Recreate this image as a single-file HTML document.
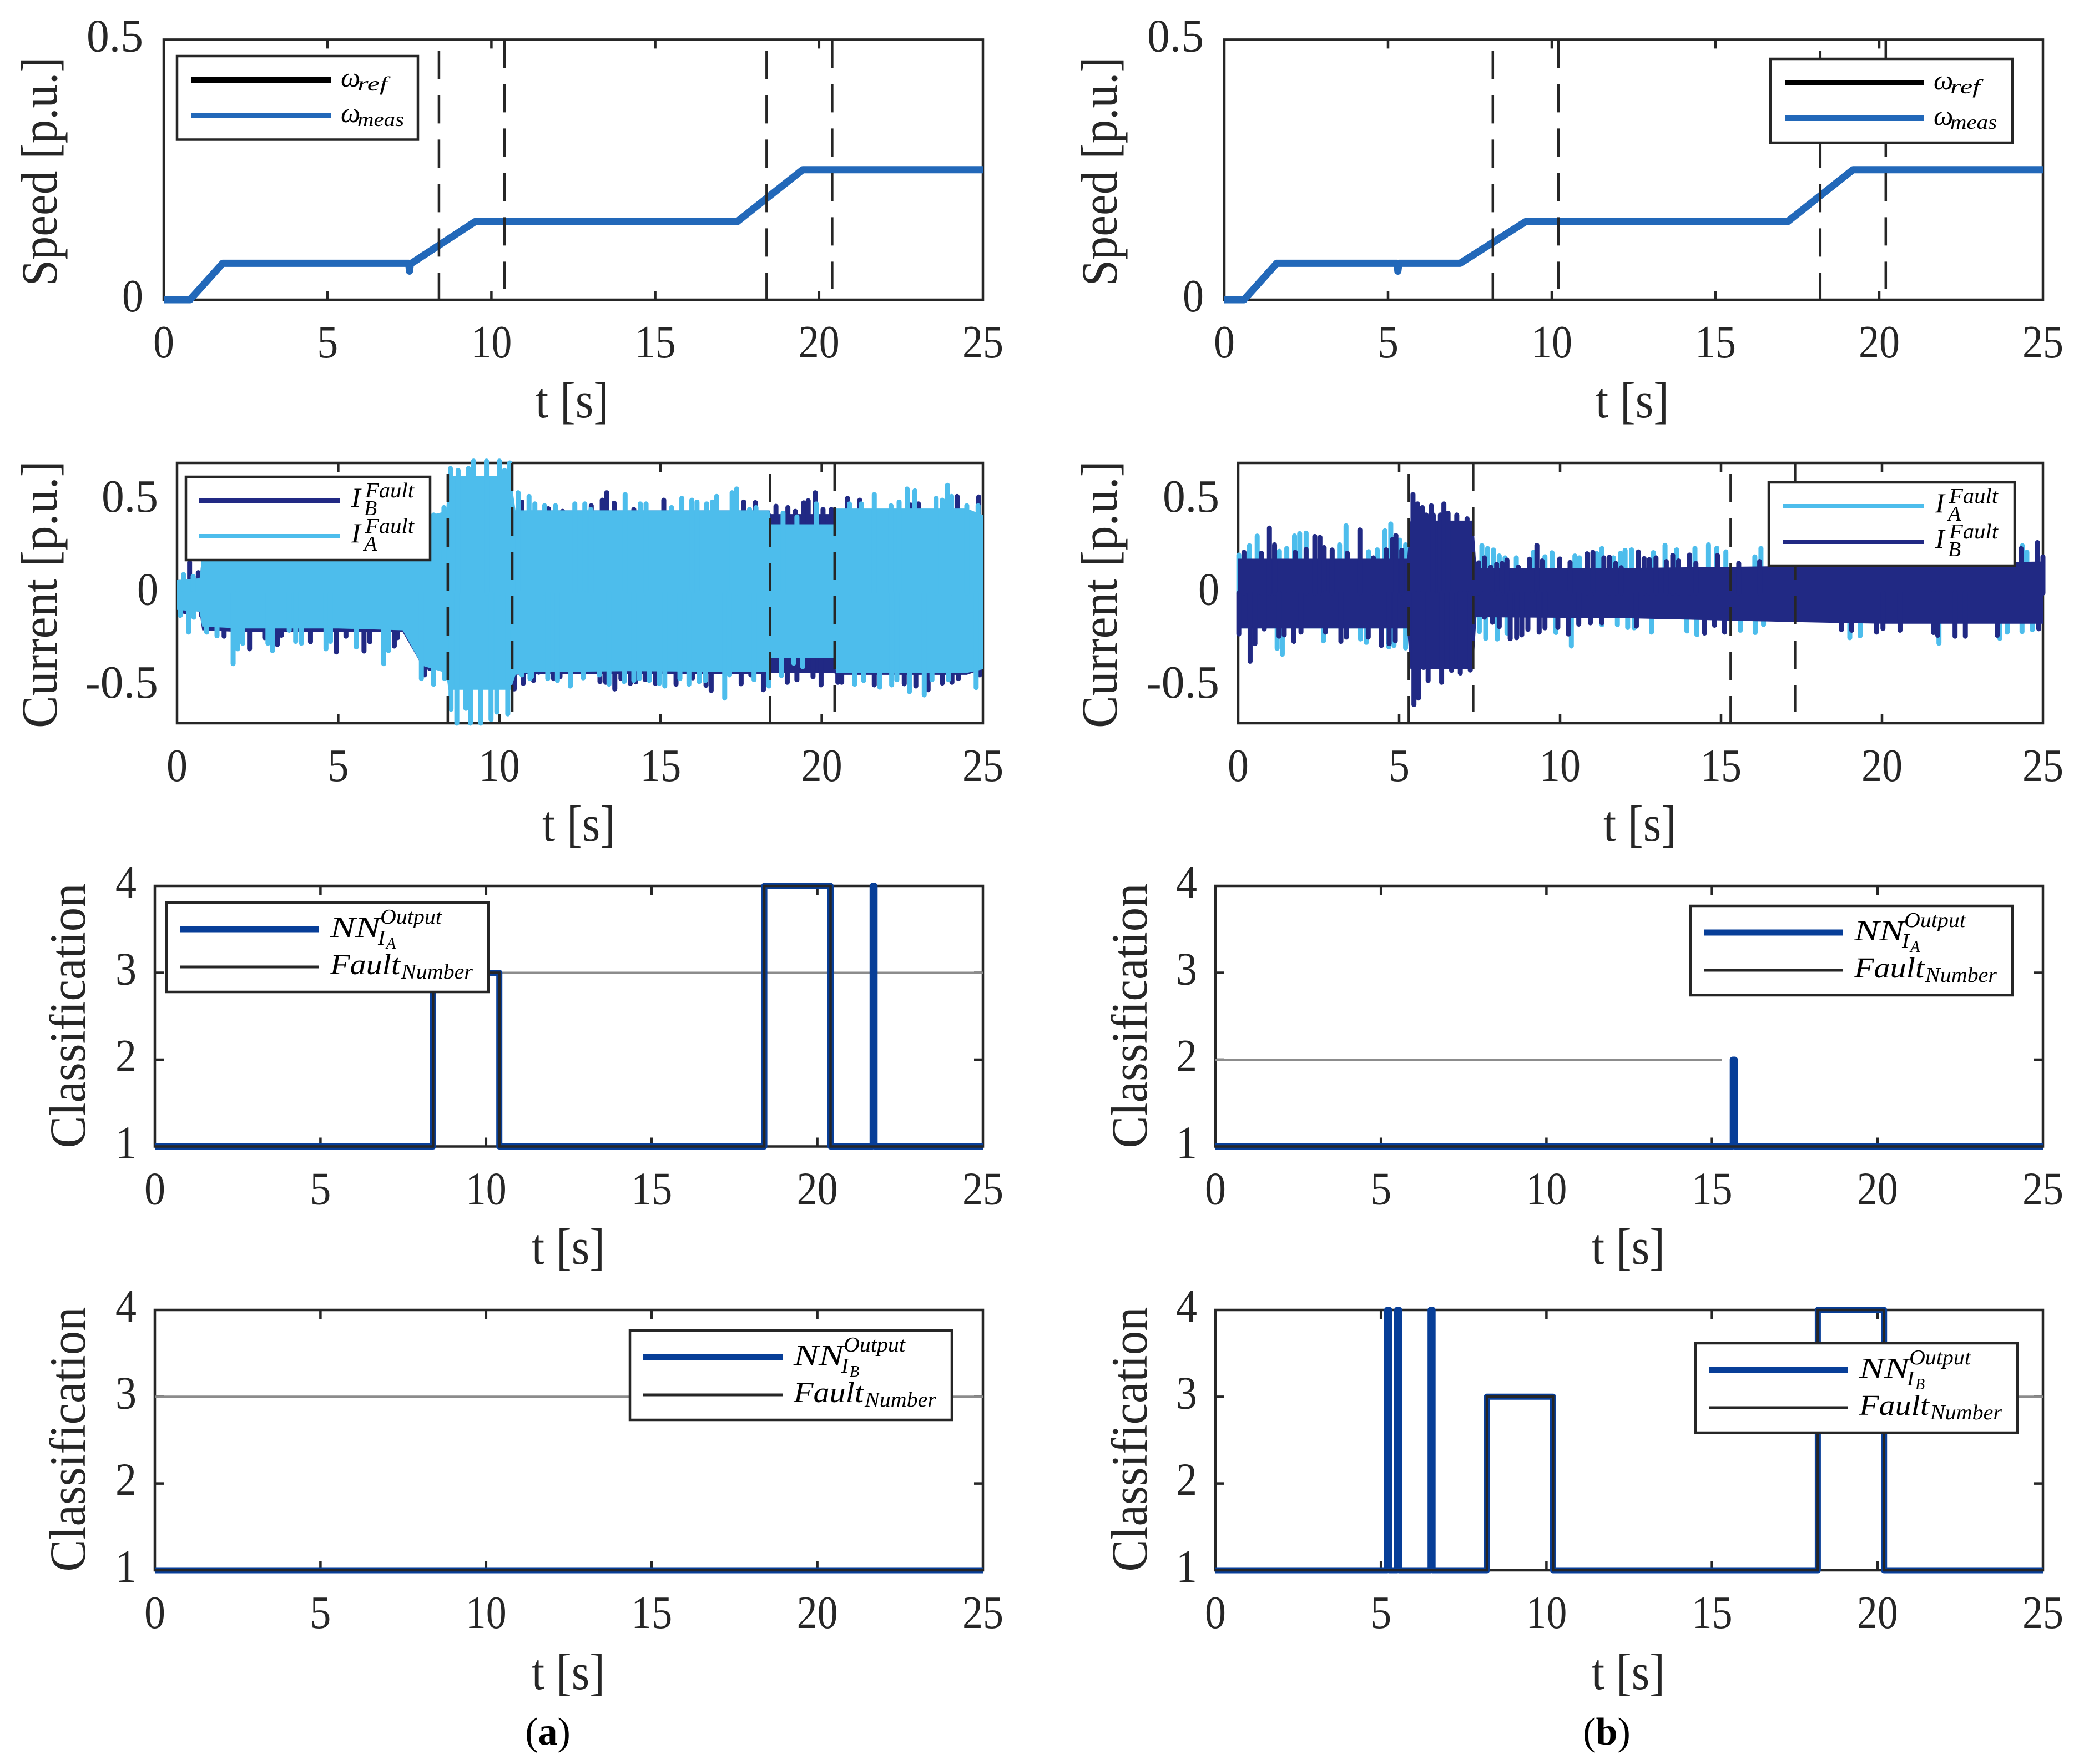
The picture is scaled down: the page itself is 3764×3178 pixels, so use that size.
<!DOCTYPE html>
<html lang="en">
<head>
<meta charset="utf-8">
<title>Speed, current and classification results for fault cases (a) and (b)</title>
<style>
html,body{margin:0;padding:0;background:#fff;}
svg{display:block;}
text{font-family:"Liberation Serif","DejaVu Serif",serif;fill:#262626;}
.lab{font-size:92px;}
.tick{font-size:84px;}
.m{font-style:italic;fill:#000;}
.lf{fill:#fff;stroke:#262626;stroke-width:4.5;}
</style>
</head>
<body>
<svg id="figure" xmlns="http://www.w3.org/2000/svg" width="3764" height="3178" viewBox="0 0 3764 3178">
<rect x="0" y="0" width="3764" height="3178" fill="#ffffff"/>

<g id="p1a"></g>
<g id="p1b"></g>
<g id="p2a"></g>
<g id="p2b"></g>
<g id="p3a"></g>
<g id="p3b"></g>
<g id="p4a"></g>
<g id="p4b"></g>

<!-- axis titles -->
<text class="lab" transform="translate(102,309) rotate(-90)" text-anchor="middle" textLength="413" lengthAdjust="spacingAndGlyphs">Speed [p.u.]</text>
<text class="lab" transform="translate(2012,309) rotate(-90)" text-anchor="middle" textLength="413" lengthAdjust="spacingAndGlyphs">Speed [p.u.]</text>
<text class="lab" transform="translate(102,1071) rotate(-90)" text-anchor="middle" textLength="482" lengthAdjust="spacingAndGlyphs">Current [p.u.]</text>
<text class="lab" transform="translate(2012,1071) rotate(-90)" text-anchor="middle" textLength="482" lengthAdjust="spacingAndGlyphs">Current [p.u.]</text>
<text class="lab" transform="translate(153,1830) rotate(-90)" text-anchor="middle" textLength="477" lengthAdjust="spacingAndGlyphs">Classification</text>
<text class="lab" transform="translate(2066,1830) rotate(-90)" text-anchor="middle" textLength="477" lengthAdjust="spacingAndGlyphs">Classification</text>
<text class="lab" transform="translate(153,2593) rotate(-90)" text-anchor="middle" textLength="477" lengthAdjust="spacingAndGlyphs">Classification</text>
<text class="lab" transform="translate(2066,2593) rotate(-90)" text-anchor="middle" textLength="477" lengthAdjust="spacingAndGlyphs">Classification</text>

<text class="lab" x="1031" y="752" text-anchor="middle" textLength="132" lengthAdjust="spacingAndGlyphs">t [s]</text>
<text class="lab" x="2941" y="752" text-anchor="middle" textLength="132" lengthAdjust="spacingAndGlyphs">t [s]</text>
<text class="lab" x="1043" y="1515" text-anchor="middle" textLength="132" lengthAdjust="spacingAndGlyphs">t [s]</text>
<text class="lab" x="2955" y="1515" text-anchor="middle" textLength="132" lengthAdjust="spacingAndGlyphs">t [s]</text>
<text class="lab" x="1024" y="2277" text-anchor="middle" textLength="132" lengthAdjust="spacingAndGlyphs">t [s]</text>
<text class="lab" x="2934" y="2277" text-anchor="middle" textLength="132" lengthAdjust="spacingAndGlyphs">t [s]</text>
<text class="lab" x="1024" y="3043" text-anchor="middle" textLength="132" lengthAdjust="spacingAndGlyphs">t [s]</text>
<text class="lab" x="2934" y="3043" text-anchor="middle" textLength="132" lengthAdjust="spacingAndGlyphs">t [s]</text>

<!-- legends -->
<g>
  <rect class="lf" x="319" y="101" width="434" height="150.500"/>
  <line x1="344" x2="596" y1="144" y2="144" stroke="#000" stroke-width="10"/>
  <line x1="344" x2="596" y1="208" y2="208" stroke="#2268b9" stroke-width="10"/>
  <text class="m" x="614" y="156" font-size="50">ω</text>
  <text class="m" x="644" y="163" font-size="36" textLength="54" lengthAdjust="spacingAndGlyphs">ref</text>
  <text class="m" x="614" y="220" font-size="50">ω</text>
  <text class="m" x="644" y="227" font-size="36" textLength="84" lengthAdjust="spacingAndGlyphs">meas</text>
</g>
<g>
  <rect class="lf" x="3190" y="106" width="436" height="151"/>
  <line x1="3216" x2="3466" y1="149" y2="149" stroke="#000" stroke-width="10"/>
  <line x1="3216" x2="3466" y1="213" y2="213" stroke="#2268b9" stroke-width="10"/>
  <text class="m" x="3484" y="161" font-size="50">ω</text>
  <text class="m" x="3514" y="168" font-size="36" textLength="54" lengthAdjust="spacingAndGlyphs">ref</text>
  <text class="m" x="3484" y="225" font-size="50">ω</text>
  <text class="m" x="3514" y="232" font-size="36" textLength="84" lengthAdjust="spacingAndGlyphs">meas</text>
</g>
<g>
  <rect class="lf" x="335" y="859" width="440" height="150"/>
  <line x1="359" x2="612" y1="902" y2="902" stroke="#212984" stroke-width="8"/>
  <line x1="359" x2="612" y1="966" y2="966" stroke="#4dbdec" stroke-width="8"/>
  <text class="m" x="633" y="913" font-size="50">I</text>
  <text class="m" x="658" y="896" font-size="38" textLength="88" lengthAdjust="spacingAndGlyphs">Fault</text>
  <text class="m" x="656" y="928" font-size="38">B</text>
  <text class="m" x="633" y="977" font-size="50">I</text>
  <text class="m" x="658" y="960" font-size="38" textLength="88" lengthAdjust="spacingAndGlyphs">Fault</text>
  <text class="m" x="656" y="992" font-size="38">A</text>
</g>
<g>
  <rect class="lf" x="3187" y="869" width="443" height="150"/>
  <line x1="3213" x2="3466" y1="912" y2="912" stroke="#4dbdec" stroke-width="8"/>
  <line x1="3213" x2="3466" y1="976" y2="976" stroke="#212984" stroke-width="8"/>
  <text class="m" x="3487" y="923" font-size="50">I</text>
  <text class="m" x="3512" y="906" font-size="38" textLength="88" lengthAdjust="spacingAndGlyphs">Fault</text>
  <text class="m" x="3510" y="938" font-size="38">A</text>
  <text class="m" x="3487" y="987" font-size="50">I</text>
  <text class="m" x="3512" y="970" font-size="38" textLength="88" lengthAdjust="spacingAndGlyphs">Fault</text>
  <text class="m" x="3510" y="1002" font-size="38">B</text>
</g>
<g transform="translate(300,1626)">
  <rect class="lf" x="0" y="0" width="580" height="161"/>
  <line x1="24" x2="275" y1="48" y2="48" stroke="#073e98" stroke-width="11"/>
  <line x1="24" x2="275" y1="116" y2="116" stroke="#262626" stroke-width="5"/>
  <text class="m" x="295" y="62" font-size="52" textLength="90" lengthAdjust="spacingAndGlyphs">NN</text>
  <text class="m" x="385" y="38" font-size="38" textLength="111" lengthAdjust="spacingAndGlyphs">Output</text>
  <text class="m" x="381" y="76" font-size="38">I</text>
  <text class="m" x="396" y="83" font-size="28">A</text>
  <text class="m" x="295" y="129" font-size="52" textLength="126" lengthAdjust="spacingAndGlyphs">Fault</text>
  <text class="m" x="423" y="137" font-size="38" textLength="129" lengthAdjust="spacingAndGlyphs">Number</text>
</g>
<g transform="translate(3046,1632)">
  <rect class="lf" x="0" y="0" width="580" height="161"/>
  <line x1="24" x2="275" y1="48" y2="48" stroke="#073e98" stroke-width="11"/>
  <line x1="24" x2="275" y1="116" y2="116" stroke="#262626" stroke-width="5"/>
  <text class="m" x="295" y="62" font-size="52" textLength="90" lengthAdjust="spacingAndGlyphs">NN</text>
  <text class="m" x="385" y="38" font-size="38" textLength="111" lengthAdjust="spacingAndGlyphs">Output</text>
  <text class="m" x="381" y="76" font-size="38">I</text>
  <text class="m" x="396" y="83" font-size="28">A</text>
  <text class="m" x="295" y="129" font-size="52" textLength="126" lengthAdjust="spacingAndGlyphs">Fault</text>
  <text class="m" x="423" y="137" font-size="38" textLength="129" lengthAdjust="spacingAndGlyphs">Number</text>
</g>
<g transform="translate(1135,2397)">
  <rect class="lf" x="0" y="0" width="580" height="161"/>
  <line x1="24" x2="275" y1="48" y2="48" stroke="#073e98" stroke-width="11"/>
  <line x1="24" x2="275" y1="116" y2="116" stroke="#262626" stroke-width="5"/>
  <text class="m" x="295" y="62" font-size="52" textLength="90" lengthAdjust="spacingAndGlyphs">NN</text>
  <text class="m" x="385" y="38" font-size="38" textLength="111" lengthAdjust="spacingAndGlyphs">Output</text>
  <text class="m" x="381" y="76" font-size="38">I</text>
  <text class="m" x="396" y="83" font-size="28">B</text>
  <text class="m" x="295" y="129" font-size="52" textLength="126" lengthAdjust="spacingAndGlyphs">Fault</text>
  <text class="m" x="423" y="137" font-size="38" textLength="129" lengthAdjust="spacingAndGlyphs">Number</text>
</g>
<g transform="translate(3055,2420)">
  <rect class="lf" x="0" y="0" width="580" height="161"/>
  <line x1="24" x2="275" y1="48" y2="48" stroke="#073e98" stroke-width="11"/>
  <line x1="24" x2="275" y1="116" y2="116" stroke="#262626" stroke-width="5"/>
  <text class="m" x="295" y="62" font-size="52" textLength="90" lengthAdjust="spacingAndGlyphs">NN</text>
  <text class="m" x="385" y="38" font-size="38" textLength="111" lengthAdjust="spacingAndGlyphs">Output</text>
  <text class="m" x="381" y="76" font-size="38">I</text>
  <text class="m" x="396" y="83" font-size="28">B</text>
  <text class="m" x="295" y="129" font-size="52" textLength="126" lengthAdjust="spacingAndGlyphs">Fault</text>
  <text class="m" x="423" y="137" font-size="38" textLength="129" lengthAdjust="spacingAndGlyphs">Number</text>
</g>

<!-- captions -->
<text x="987" y="3143" text-anchor="middle" font-size="70" style="fill:#000">(<tspan font-weight="bold">a</tspan>)</text>
<text x="2895" y="3143" text-anchor="middle" font-size="70" style="fill:#000">(<tspan font-weight="bold">b</tspan>)</text>
</svg>

<script>
// ---------- tick values ----------
const xTicks = [0, 5, 10, 15, 20, 25];
const speedTicks = [0, 0.5];
const currentTicks = [-0.5, 0, 0.5];
const classTicks = [1, 2, 3, 4];

// ---------- fault marker times ----------
const markersA = [8.4, 10.4, 18.4, 20.4];
const markersSpeedB = [8.2, 10.2, 18.2, 20.2];
const markersCurrentB = [5.3, 7.3, 15.3, 17.3];

// ---------- speed series ----------
const speedTimeA = [0, 0.8, 1.8, 7.48, 7.5, 7.53, 7.56, 9.5, 17.5, 19.5, 25];
const speedMeasA = [0, 0, 0.07, 0.07, 0.055, 0.07, 0.07, 0.15, 0.15, 0.25, 0.25];
const speedRefA  = [0, 0, 0.07, 0.07, 0.07, 0.07, 0.07, 0.15, 0.15, 0.25, 0.25];
const speedTimeB = [0, 0.6, 1.6, 5.28, 5.3, 5.33, 7.2, 9.2, 17.2, 19.2, 25];
const speedMeasB = [0, 0, 0.07, 0.07, 0.055, 0.07, 0.07, 0.15, 0.15, 0.25, 0.25];
const speedRefB  = [0, 0, 0.07, 0.07, 0.07, 0.07, 0.07, 0.15, 0.15, 0.25, 0.25];

// ---------- current envelopes, case (a) ----------
const bandTimeA = [0, 0.7, 0.78, 2, 5, 7, 7.6, 8.35, 8.42, 10.35, 10.5, 11, 14, 18.38, 18.42, 20.38, 20.45, 24.5, 25];
const iaHiA = [0.07, 0.08, 0.2, 0.2, 0.2, 0.22, 0.41, 0.44, 0.63, 0.63, 0.445, 0.445, 0.445, 0.445, 0.37, 0.37, 0.455, 0.455, 0.42];
const iaLoA = [-0.09, -0.1, -0.18, -0.19, -0.19, -0.2, -0.39, -0.43, -0.52, -0.52, -0.44, -0.425, -0.42, -0.425, -0.35, -0.35, -0.43, -0.43, -0.41];
const ibHiA = [0.07, 0.08, 0.2, 0.2, 0.2, 0.22, 0.4, 0.43, 0.6, 0.6, 0.44, 0.445, 0.445, 0.445, 0.425, 0.425, 0.45, 0.45, 0.41];
const ibLoA = [-0.09, -0.1, -0.2, -0.21, -0.21, -0.21, -0.39, -0.42, -0.51, -0.51, -0.44, -0.435, -0.435, -0.435, -0.43, -0.43, -0.44, -0.44, -0.41];

// spikes as [time, peak]
const iaUpA = [[8.28,.46],[7.96,.42],[8.48,.67],[8.72,.66],[9.04,.67],[9.2,.71],[9.6,.71],[10,.71],[10.16,.66],[10.32,.7],[10.58,.54],[10.92,.52],[11.1,.48],[11.4,.47],[11.74,.47],[12.34,.48],[12.65,.48],[12.84,.45],[13.9,.53],[14.37,.48],[14.55,.48],[15.34,.46],[15.66,.51],[15.97,.5],[16.13,.49],[16.43,.48],[16.61,.49],[16.74,.52],[17.22,.54],[17.36,.56],[17.76,.45],[17.96,.46],[18.8,.43],[19.23,.41],[19.83,.48],[20.86,.48],[21.23,.48],[21.63,.53],[22.15,.47],[22.4,.49],[22.65,.56],[22.89,.55],[23.55,.51],[23.74,.5],[23.9,.58],[24.03,.52],[24.5,.47],[24.85,.47],[0.2,.1],[0.5,.09]];
const iaDnA = [[.1,-.12],[.36,-.21],[.52,-.13],[.92,-.21],[1.24,-.23],[1.74,-.38],[1.88,-.3],[2.04,-.27],[2.82,-.27],[2.96,-.31],[3.48,-.2],[3.68,-.26],[3.86,-.27],[4.62,-.3],[4.76,-.26],[5.56,-.29],[6.41,-.38],[6.56,-.31],[7.58,-.46],[7.96,-.49],[8.3,-.46],[8.5,-.625],[8.68,-.7],[8.96,-.62],[9.1,-.7],[9.42,-.7],[9.74,-.68],[9.92,-.64],[10.26,-.65],[12.6,-.456],[13.1,-.44],[13.4,-.49],[13.87,-.476],[14.17,-.47],[14.34,-.46],[14.65,-.47],[14.96,-.486],[15.13,-.5],[15.6,-.46],[15.88,-.49],[16.2,-.476],[16.39,-.47],[16.99,-.565],[17.14,-.44],[17.9,-.466],[18.36,-.5],[18.75,-.444],[19.13,-.377],[19.41,-.396],[21.02,-.49],[21.3,-.47],[21.8,-.506],[22.17,-.494],[22.33,-.466],[22.72,-.53],[23.18,-.548],[23.42,-.466],[23.93,-.466],[24.79,-.508],[10.7,-.44],[11,-.45],[11.5,-.46],[11.8,-.47],[12.2,-.5],[10.95,-.46]];
const ibUpA = [[.39,.166],[.66,.11],[10.7,.49],[11.52,.454],[11.96,.44],[12.85,.47],[13.19,.5],[13.33,.54],[13.56,.484],[14.17,.45],[15.1,.5],[17.58,.49],[17.94,.487],[18.58,.467],[18.95,.46],[19.18,.44],[19.44,.486],[19.58,.497],[19.8,.54],[20.04,.45],[20.3,.45],[20.8,.51],[21.18,.5],[22.76,.474],[23,.48],[24.2,.52],[24.87,.517]];
const ibDnA = [[.24,-.1],[.76,-.12],[.82,-.16],[1.46,-.232],[2.25,-.3],[2.72,-.24],[3.11,-.277],[3.24,-.227],[4.14,-.262],[4.94,-.317],[5.24,-.232],[5.8,-.312],[5.98,-.262],[6.74,-.285],[6.84,-.24],[7.68,-.44],[7.84,-.406],[10.46,-.516],[10.74,-.486],[11.06,-.47],[11.22,-.426],[11.68,-.46],[11.88,-.45],[13.12,-.476],[13.3,-.48],[13.58,-.516],[13.77,-.46],[14.06,-.486],[14.23,-.478],[14.52,-.465],[14.84,-.486],[15.48,-.49],[16,-.456],[16.41,-.496],[16.57,-.524],[17.5,-.488],[17.8,-.44],[18.19,-.52],[18.93,-.48],[19.23,-.466],[19.73,-.45],[19.98,-.494],[20.5,-.48],[20.62,-.48],[21.63,-.494],[22.56,-.488],[22.92,-.5],[23.3,-.52],[23.74,-.484],[24.04,-.48],[24.24,-.46],[24.9,-.44]];

// ---------- current envelopes, case (b) ----------
const bandTimeB = [0, 5.25, 5.35, 7.3, 7.4, 12, 17, 20, 25];
const iaHiB = [0.18, 0.18, 0.36, 0.36, 0.13, 0.13, 0.13, 0.14, 0.15];
const iaLoB = [-0.19, -0.19, -0.38, -0.38, -0.13, -0.13, -0.14, -0.15, -0.16];
const ibHiB = [0.185, 0.185, 0.39, 0.39, 0.135, 0.135, 0.145, 0.155, 0.17];
const ibLoB = [-0.19, -0.19, -0.41, -0.41, -0.13, -0.135, -0.155, -0.165, -0.165];

const iaUpB = [[.02,.205],[.35,.255],[.59,.307],[1.28,.225],[1.51,.24],[1.75,.308],[1.91,.32],[2.11,.323],[3.15,.26],[3.35,.362],[4.05,.223],[4.32,.233],[4.56,.335],[4.74,.372],[5.02,.285],[5.2,.26],[7.57,.255],[7.75,.24],[7.93,.232],[8.11,.2],[8.29,.19],[8.64,.19],[9.17,.22],[9.53,.196],[9.75,.217],[10.46,.2],[10.6,.19],[11.14,.213],[11.3,.24],[11.66,.19],[11.88,.215],[12.02,.23],[12.22,.233],[12.9,.218],[13.26,.257],[13.62,.233],[14.19,.24],[14.61,.26],[14.87,.242],[15.15,.222],[16.05,.195],[16.24,.24],[24.06,.285],[24.36,.255],[24.5,.22]];
const iaDnB = [[1.21,-.297],[1.37,-.329],[2.65,-.257],[3.8,-.247],[3.98,-.265],[4.68,-.29],[4.84,-.282],[5.2,-.295],[7.49,-.207],[7.69,-.244],[8.05,-.247],[8.35,-.215],[9.87,-.212],[10.35,-.285],[11.3,-.17],[11.78,-.17],[12.1,-.185],[12.3,-.187],[12.84,-.21],[13.94,-.204],[14.25,-.224],[15.6,-.2],[16.06,-.212],[16.32,-.17],[19,-.24],[19.32,-.23],[21.77,-.27],[23.66,-.244],[23.89,-.21],[24.35,-.207],[24.67,-.197]];
const ibUpB = [[.18,.22],[.72,.215],[.97,.35],[1.13,.26],[1.77,.22],[2.11,.235],[2.38,.305],[2.54,.3],[2.67,.245],[2.92,.232],[3.39,.215],[3.78,.34],[4.2,.19],[4.6,.233],[4.8,.29],[4.9,.31],[5.08,.23],[5.43,.53],[5.57,.48],[5.72,.46],[5.84,.42],[6,.47],[6.06,.42],[6.28,.42],[6.39,.48],[6.52,.43],[6.79,.42],[7.11,.4],[7.25,.37],[7.47,.163],[7.65,.19],[7.85,.14],[8.03,.155],[8.2,.16],[8.35,.178],[8.7,.14],[9.05,.183],[9.28,.257],[9.44,.173],[9.99,.184],[10.31,.165],[10.84,.212],[11.02,.22],[11.36,.19],[11.53,.193],[11.73,.16],[11.9,.137],[12.43,.222],[12.61,.186],[12.77,.18],[12.98,.19],[13.3,.17],[13.5,.203],[13.68,.173],[14.02,.205],[14.22,.16],[14.89,.203],[15.55,.16],[16.2,.17],[24.32,.24],[24.83,.272],[25,.195]];
const ibDnB = [[.02,-.22],[.37,-.367],[.52,-.272],[.81,-.193],[1.27,-.232],[1.43,-.225],[1.73,-.26],[1.95,-.21],[2.71,-.21],[3.19,-.26],[3.36,-.237],[4.04,-.237],[4.45,-.282],[4.69,-.272],[4.88,-.257],[5.46,-.6],[5.6,-.565],[5.76,-.4],[5.9,-.47],[6.04,-.357],[6.32,-.48],[6.49,-.37],[6.63,-.416],[6.9,-.43],[7.03,-.37],[7.21,-.414],[7.65,-.13],[7.9,-.157],[8.11,-.18],[8.45,-.245],[8.65,-.24],[8.81,-.225],[9,-.195],[9.35,-.21],[9.53,-.187],[9.93,-.185],[10.26,-.22],[10.58,-.167],[10.94,-.16],[11.3,-.16],[12.37,-.178],[14.49,-.215],[14.8,-.173],[15.11,-.21],[18.74,-.197],[19.06,-.2],[19.83,-.21],[20.03,-.19],[20.56,-.2],[21.6,-.212],[21.73,-.227],[22.27,-.232],[22.59,-.232],[23.58,-.227],[24.87,-.192]];

// ---------- classification series ----------
const nnIaTimeA = [0, 8.4, 8.4, 10.4, 10.4, 18.4, 18.4, 20.4, 20.4, 21.67, 21.67, 21.73, 21.73, 25];
const nnIaValA  = [1, 1, 3, 3, 1, 1, 4, 4, 1, 1, 4, 4, 1, 1];
const faultIaTimeA = [0, 8.4, 8.4, 10.4, 10.4, 18.4, 18.4, 20.4, 20.4, 25];
const faultIaValA  = [1, 1, 3, 3, 1, 1, 4, 4, 1, 1];
const levelIaTimeA = [10.4, 25];
const levelIaValA  = [3, 3];

const nnIaTimeB = [0, 15.63, 15.63, 15.69, 15.69, 25];
const nnIaValB  = [1, 1, 2, 2, 1, 1];
const faultIaTimeB = [0, 25];
const faultIaValB  = [1, 1];
const levelIaTimeB = [0, 15.3];
const levelIaValB  = [2, 2];

const nnIbTimeA = [0, 25];
const nnIbValA  = [1, 1];
const faultIbTimeA = [0, 25];
const faultIbValA  = [1, 1];
const levelIbTimeA = [0, 25];
const levelIbValA  = [3, 3];

const nnIbTimeB = [0, 5.19, 5.19, 5.25, 5.25, 5.49, 5.49, 5.55, 5.55, 6.5, 6.5, 6.56, 6.56, 8.2, 8.2, 10.2, 10.2, 18.2, 18.2, 20.2, 20.2, 25];
const nnIbValB  = [1, 1, 4, 4, 1, 1, 4, 4, 1, 1, 4, 4, 1, 1, 3, 3, 1, 1, 4, 4, 1, 1];
const faultIbTimeB = [0, 8.2, 8.2, 10.2, 10.2, 18.2, 18.2, 20.2, 20.2, 25];
const faultIbValB  = [1, 1, 3, 3, 1, 1, 4, 4, 1, 1];
const levelIbTimeB = [20.2, 25];
const levelIbValB  = [3, 3];

// ---------- drawing ----------
const NS = 'http://www.w3.org/2000/svg';
const INK = '#262626';
const labelWidths = {1: 38, 2: 74, 3: 102, 4: 132};

function mk(parent, tag) {
  const el = document.createElementNS(NS, tag);
  parent.appendChild(el);
  return el;
}
function set(el, attrs) {
  for (const k in attrs) el.setAttribute(k, attrs[k]);
}
function scales(box, ymin, ymax) {
  return {
    x: t => box.l + (t / 25) * (box.r - box.l),
    y: v => box.b - ((v - ymin) / (ymax - ymin)) * (box.b - box.t)
  };
}
function pathOf(ts, vs, s) {
  return ts.map((t, i) => (i ? 'L' : 'M') + s.x(t).toFixed(1) + ' ' + s.y(vs[i]).toFixed(1)).join('');
}

function drawAxes(g, box, s, yTicks, labelRightGap) {
  const frame = mk(g, 'rect');
  
  
  set(frame, {x: box.l, y: box.t, width: box.r - box.l, height: box.b - box.t, fill: 'none', stroke: INK, 'stroke-width': 4.5});

  xTicks.forEach(t => {
    const x = s.x(t);
    if (t > 0 && t < 25) {
      const d = mk(g, 'path');
      
      
      set(d, {d: 'M' + x + ' ' + box.t + 'V' + (box.t + 16) + 'M' + x + ' ' + box.b + 'V' + (box.b - 16), stroke: INK, 'stroke-width': 4.5, fill: 'none'});
    }
    const lab = mk(g, 'text');
    
    
    const txt = String(t);
    set(lab, {x: x, y: box.b + 104, 'text-anchor': 'middle', class: 'tick', textLength: labelWidths[txt.length], lengthAdjust: 'spacingAndGlyphs'});
    lab.textContent = txt;
  });

  yTicks.forEach((v, i) => {
    const y = s.y(v);
    if (i > 0 && i < yTicks.length - 1) {
      const d = mk(g, 'path');
      
      
      set(d, {d: 'M' + box.l + ' ' + y + 'H' + (box.l + 16) + 'M' + box.r + ' ' + y + 'H' + (box.r - 16), stroke: INK, 'stroke-width': 4.5, fill: 'none'});
    }
    const lab = mk(g, 'text');
    
    
    const txt = String(v);
    set(lab, {x: box.l - labelRightGap, y: y + 21, 'text-anchor': 'end', class: 'tick', textLength: labelWidths[txt.length], lengthAdjust: 'spacingAndGlyphs'});
    lab.textContent = txt;
  });
}

function drawMarkers(g, box, s, times) {
  times.forEach((t, i) => {
    const first = i % 2 === 0;
    const m = mk(g, 'line');
    
    
    set(m, {
      x1: s.x(t), x2: s.x(t),
      y1: first ? box.t + 20 : box.t,
      y2: first ? box.b : box.b - 20,
      stroke: INK, 'stroke-width': 4.5, 'stroke-dasharray': '51 29'
    });
  });
}

function drawSpeed(g, s, ts, refs, meas) {
  const r = mk(g, 'path');
  
  
  set(r, {d: pathOf(ts, refs, s), fill: 'none', stroke: '#000', 'stroke-width': 4});
  const m = mk(g, 'path');
  
  
  set(m, {d: pathOf(ts, meas, s), fill: 'none', stroke: '#2268b9', 'stroke-width': 13, 'stroke-linejoin': 'round'});
}

function drawCurrent(g, s, ts, hi, lo, up, dn, color) {
  const band = mk(g, 'polygon');
  
  
  const top = ts.map((t, i) => s.x(t).toFixed(1) + ',' + s.y(hi[i]).toFixed(1));
  const bot = ts.map((t, i) => s.x(t).toFixed(1) + ',' + s.y(lo[i]).toFixed(1)).reverse();
  set(band, {points: top.concat(bot).join(' '), fill: color});
  up.concat(dn).forEach(p => {
    const sp = mk(g, 'line');
    
    
    set(sp, {x1: s.x(p[0]), x2: s.x(p[0]), y1: s.y(0), y2: s.y(p[1]), stroke: color, 'stroke-width': 9, 'stroke-linecap': 'round'});
  });
}

function drawClass(g, s, nnT, nnV, fT, fV, lT, lV) {
  const lev = mk(g, 'path');
  
  
  set(lev, {d: pathOf(lT, lV, s), fill: 'none', stroke: '#8c8c8c', 'stroke-width': 4});
  const nn = mk(g, 'path');
  
  
  set(nn, {d: pathOf(nnT, nnV, s), fill: 'none', stroke: '#073e98', 'stroke-width': 11, 'stroke-linejoin': 'round'});
  const f = mk(g, 'path');
  
  
  set(f, {d: pathOf(fT, fV, s), fill: 'none', stroke: INK, 'stroke-width': 4.5});
}

const boxes = {
  p1a: {l: 295, r: 1771, t: 71.4, b: 540},
  p1b: {l: 2206, r: 3681, t: 71.4, b: 540},
  p2a: {l: 319, r: 1771, t: 834, b: 1303},
  p2b: {l: 2231, r: 3681, t: 834, b: 1303},
  p3a: {l: 279, r: 1771, t: 1596, b: 2065.5},
  p3b: {l: 2190, r: 3681, t: 1596, b: 2065.5},
  p4a: {l: 279, r: 1771, t: 2360, b: 2829},
  p4b: {l: 2190, r: 3681, t: 2360, b: 2829}
};

function panel(id, ymin, ymax, yTicks, gap, fill) {
  const g = document.getElementById(id);
  const box = boxes[id];
  const s = scales(box, ymin, ymax);
  drawAxes(g, box, s, yTicks, gap);
  fill(g, box, s);
}

panel('p1a', 0, 0.5, speedTicks, 37, (g, box, s) => {
  drawSpeed(g, s, speedTimeA, speedRefA, speedMeasA);
  drawMarkers(g, box, s, markersA);
});
panel('p1b', 0, 0.5, speedTicks, 37, (g, box, s) => {
  drawSpeed(g, s, speedTimeB, speedRefB, speedMeasB);
  drawMarkers(g, box, s, markersSpeedB);
});
panel('p2a', -0.7, 0.7, currentTicks, 34, (g, box, s) => {
  drawCurrent(g, s, bandTimeA, ibHiA, ibLoA, ibUpA, ibDnA, '#212984');
  drawCurrent(g, s, bandTimeA, iaHiA, iaLoA, iaUpA, iaDnA, '#4dbdec');
  drawMarkers(g, box, s, markersA);
});
panel('p2b', -0.7, 0.7, currentTicks, 34, (g, box, s) => {
  drawCurrent(g, s, bandTimeB, iaHiB, iaLoB, iaUpB, iaDnB, '#4dbdec');
  drawCurrent(g, s, bandTimeB, ibHiB, ibLoB, ibUpB, ibDnB, '#212984');
  drawMarkers(g, box, s, markersCurrentB);
});
panel('p3a', 1, 4, classTicks, 33, (g, box, s) => {
  drawClass(g, s, nnIaTimeA, nnIaValA, faultIaTimeA, faultIaValA, levelIaTimeA, levelIaValA);
});
panel('p3b', 1, 4, classTicks, 33, (g, box, s) => {
  drawClass(g, s, nnIaTimeB, nnIaValB, faultIaTimeB, faultIaValB, levelIaTimeB, levelIaValB);
});
panel('p4a', 1, 4, classTicks, 33, (g, box, s) => {
  drawClass(g, s, nnIbTimeA, nnIbValA, faultIbTimeA, faultIbValA, levelIbTimeA, levelIbValA);
});
panel('p4b', 1, 4, classTicks, 33, (g, box, s) => {
  drawClass(g, s, nnIbTimeB, nnIbValB, faultIbTimeB, faultIbValB, levelIbTimeB, levelIbValB);
});
</script>
</body>
</html>
